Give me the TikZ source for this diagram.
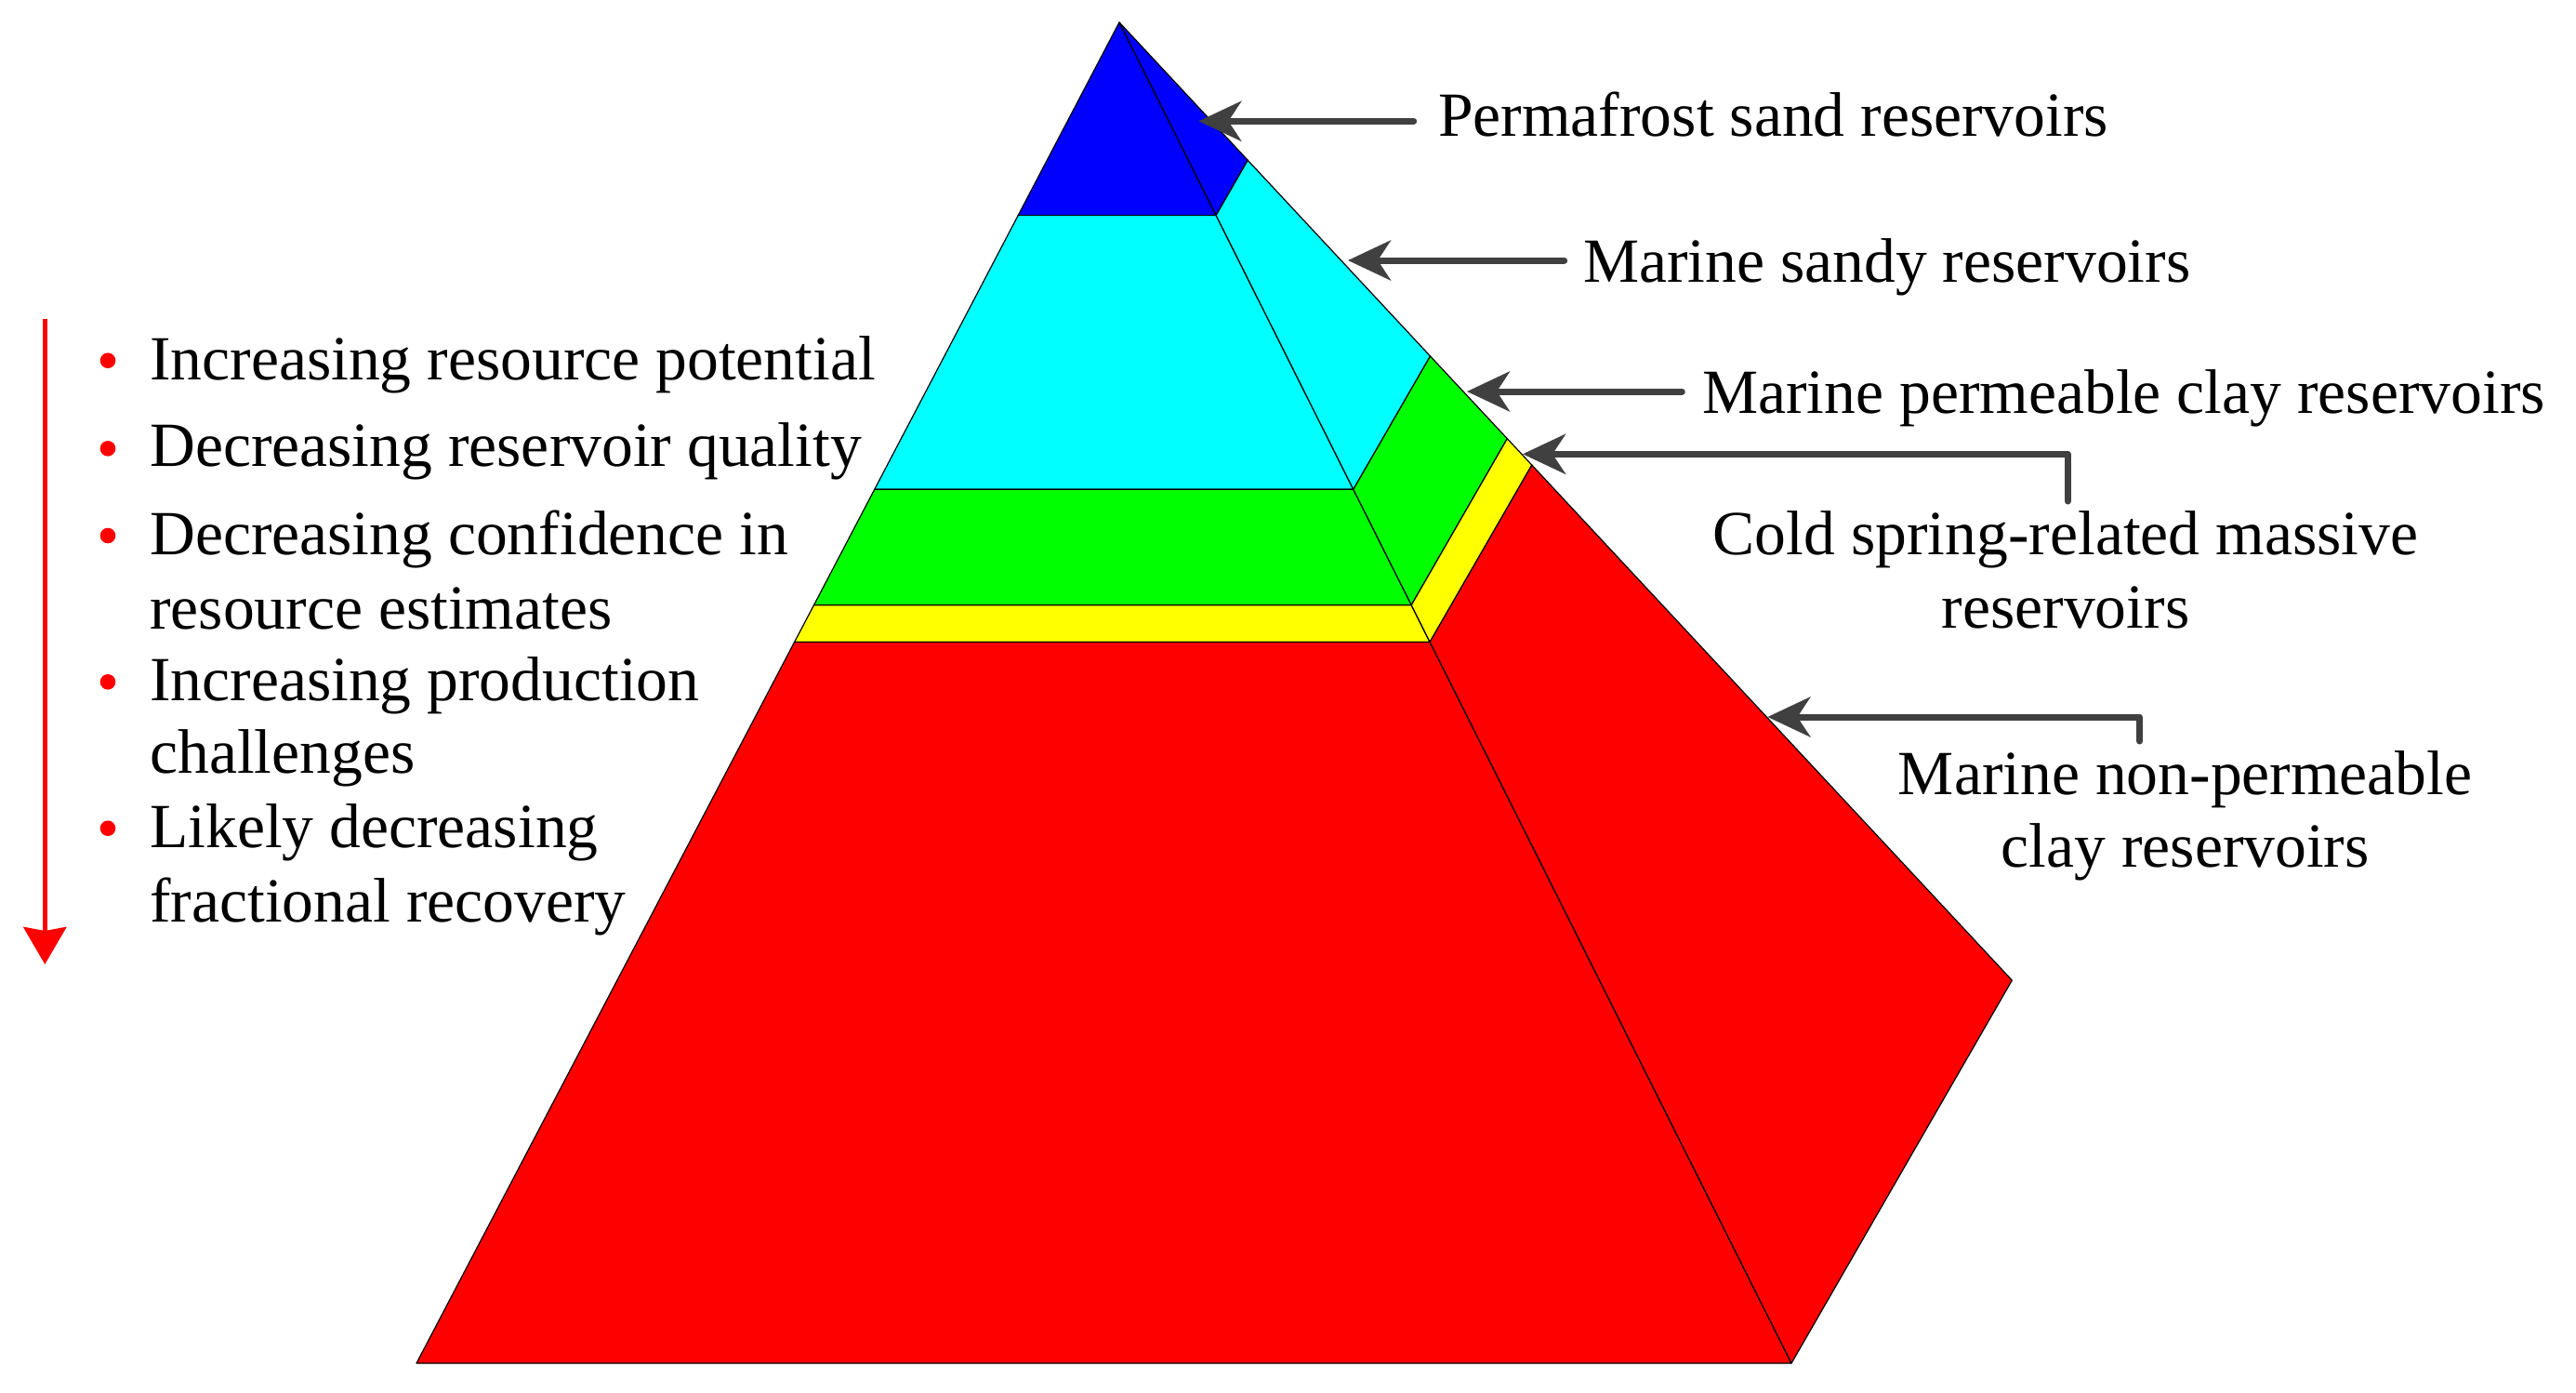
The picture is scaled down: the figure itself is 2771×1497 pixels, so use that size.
\documentclass[tikz,border=0pt]{standalone}
\usepackage{fontspec}
\setmainfont{Liberation Serif}
\usetikzlibrary{arrows.meta}
\definecolor{pblue}{RGB}{0,0,255}
\definecolor{pcyan}{RGB}{0,255,255}
\definecolor{pgreen}{RGB}{0,255,0}
\definecolor{pyellow}{RGB}{255,255,0}
\definecolor{pred}{RGB}{255,0,0}
\definecolor{arrowgray}{RGB}{64,64,64}
\begin{document}
\begin{tikzpicture}[x=1pt,y=-1pt,
  face/.style={draw=black, line width=1.2pt, line join=round},
  lbl/.style={font=\fontsize{67.6pt}{80pt}\selectfont, inner sep=0pt, text=black},
  pointer/.style={draw=arrowgray, line width=7pt, line cap=round, -{Stealth[length=46pt,width=43pt,inset=14pt]}},
  trend/.style={draw=pred, line width=5.3pt, -{Stealth[length=40pt,width=46pt,inset=4pt]}},
  bulletdot/.style={fill=pred, draw=none, circle, minimum size=16.6pt, inner sep=0pt}]
\useasboundingbox (0,0) rectangle (2771,1497);
% pyramid corner points
\coordinate (A) at (1204,24);
\coordinate (L1) at (1095.2,231.6);  \coordinate (R1) at (1308.1,231.6);
\coordinate (L2) at (940.7,526.3);   \coordinate (R2) at (1455.8,526.3);
\coordinate (L3) at (875.5,650.7);   \coordinate (R3) at (1518.2,650.7);
\coordinate (L4) at (854.6,690.4);   \coordinate (R4) at (1538.1,690.4);
\coordinate (L5) at (448,1466);      \coordinate (R5) at (1927,1466);
\coordinate (B1) at (1342.2,172.3);
\coordinate (B2) at (1538.5,383.0);
\coordinate (B3) at (1621.3,471.7);
\coordinate (B4) at (1647.8,500.1);
\coordinate (B5) at (2164.3,1054.2);
% front faces
\filldraw[face, fill=pblue] (A) -- (L1) -- (R1) -- cycle;
\filldraw[face, fill=pcyan] (L1) -- (R1) -- (R2) -- (L2) -- cycle;
\filldraw[face, fill=pgreen] (L2) -- (R2) -- (R3) -- (L3) -- cycle;
\filldraw[face, fill=pyellow] (L3) -- (R3) -- (R4) -- (L4) -- cycle;
\filldraw[face, fill=pred] (L4) -- (R4) -- (R5) -- (L5) -- cycle;
% side faces
\filldraw[face, fill=pblue] (A) -- (R1) -- (B1) -- cycle;
\filldraw[face, fill=pcyan] (R1) -- (B1) -- (B2) -- (R2) -- cycle;
\filldraw[face, fill=pgreen] (R2) -- (B2) -- (B3) -- (R3) -- cycle;
\filldraw[face, fill=pyellow] (R3) -- (B3) -- (B4) -- (R4) -- cycle;
\filldraw[face, fill=pred] (R4) -- (B4) -- (B5) -- (R5) -- cycle;
% right labels
\node[lbl, anchor=base west] (l1) at (1547,146) {Permafrost sand reservoirs};
\node[lbl, anchor=base west] (l2) at (1703,303.7) {Marine sandy reservoirs};
\node[lbl, anchor=base west] (l3) at (1831,444.2) {Marine permeable clay reservoirs};
\node[lbl, anchor=base] (l4a) at (2222,596.7) {Cold spring-related massive};
\node[lbl, anchor=base] (l4b) at (2222,675) {reservoirs};
\node[lbl, anchor=base] (l5a) at (2350.7,854.5) {Marine non-permeable};
\node[lbl, anchor=base] (l5b) at (2350.7,932.7) {clay reservoirs};
% pointer ends
\coordinate (t1) at (1520.7,130.3); \coordinate (h1) at (1289.3,130.3);
\coordinate (t2) at (1682.7,280);   \coordinate (h2) at (1450,280);
\coordinate (t3) at (1809.3,421);   \coordinate (h3) at (1578,421);
\coordinate (t4) at (2224,539);     \coordinate (h4) at (1638,488.3);
\coordinate (t5) at (2301.7,797);   \coordinate (h5) at (1901.4,771);
\draw[pointer] (t1) -- (h1);
\draw[pointer] (t2) -- (h2);
\draw[pointer] (t3) -- (h3);
\draw[pointer, line join=round] (t4) |- (h4);
\draw[pointer, line join=round] (t5) |- (h5);
% left list
\coordinate (ar1) at (48.3,343);
\coordinate (ar2) at (48.3,1037);
\draw[trend] (ar1) -- (ar2);
\node[bulletdot] (b1) at (116,387.7) {};
\node[bulletdot] (b2) at (116,482.3) {};
\node[bulletdot] (b3) at (116,576) {};
\node[bulletdot] (b4) at (116,733.3) {};
\node[bulletdot] (b5) at (116,890.7) {};
\node[lbl, anchor=base west] (i1) at (161,408.3) {Increasing resource potential};
\node[lbl, anchor=base west] (i2) at (161,501.7) {Decreasing reservoir quality};
\node[lbl, anchor=base west] (i3a) at (161,596) {Decreasing confidence in};
\node[lbl, anchor=base west] (i3b) at (161,676.7) {resource estimates};
\node[lbl, anchor=base west] (i4a) at (161,753.6) {Increasing production};
\node[lbl, anchor=base west] (i4b) at (161,831.2) {challenges};
\node[lbl, anchor=base west] (i5a) at (161,911.7) {Likely decreasing};
\node[lbl, anchor=base west] (i5b) at (161,991.7) {fractional recovery};
\end{tikzpicture}
\end{document}
